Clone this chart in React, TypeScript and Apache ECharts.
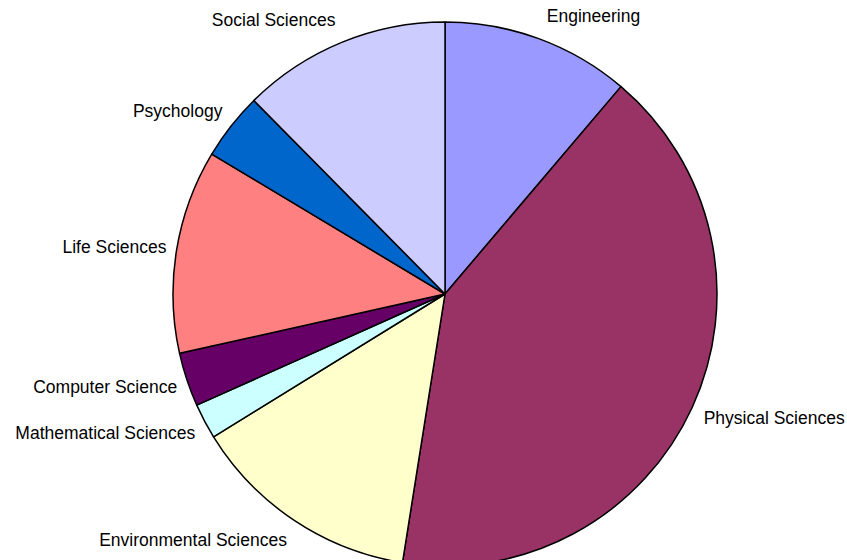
import React, { useEffect, useRef } from "react";
import * as echarts from "echarts";

const categories = [
  "Engineering",
  "Physical Sciences",
  "Environmental Sciences",
  "Mathematical Sciences",
  "Computer Science",
  "Life Sciences",
  "Psychology",
  "Social Sciences",
];
const values = [11.2, 41.3, 13.7, 2.1, 3.2, 12.1, 4.0, 12.4];
const colors = [
  "#9999FF",
  "#993366",
  "#FFFFCC",
  "#CCFFFF",
  "#660066",
  "#FF8080",
  "#0066CC",
  "#CCCCFF",
];

export default function App() {
  const ref = useRef<HTMLDivElement>(null);
  useEffect(() => {
    if (!ref.current) return;
    const chart = echarts.init(ref.current, undefined, { renderer: "svg" });
    const total = values.reduce((a, b) => a + b, 0);
    let acc = 0;
    const data = categories.map((name, i) => {
      const mid = ((acc + values[i] / 2) / total) * 2 * Math.PI;
      acc += values[i];
      return {
        name,
        value: values[i],
        itemStyle: { color: colors[i] },
        label: { offset: [1, -18 * Math.cos(mid)] },
      };
    });
    chart.setOption({
      animation: false,
      backgroundColor: "#ffffff",
      series: [
        {
          type: "pie",
          center: [445, 294],
          radius: 272,
          startAngle: 90,
          clockwise: true,
          avoidLabelOverlap: false,
          data,
          itemStyle: { borderColor: "#000000", borderWidth: 1.5 },
          label: {
            show: true,
            position: "outside",
            color: "#000000",
            fontFamily: "Liberation Sans, Arial, sans-serif",
            fontSize: 17.5,
            bleedMargin: 0,
          },
          labelLine: { show: false, length: 6, length2: 0 },
          emphasis: { disabled: true },
        },
      ],
    });
    return () => chart.dispose();
  }, []);
  return (
    <div
      ref={ref}
      style={{ position: "fixed", left: 0, top: 0, width: 847, height: 560 }}
    />
  );
}
